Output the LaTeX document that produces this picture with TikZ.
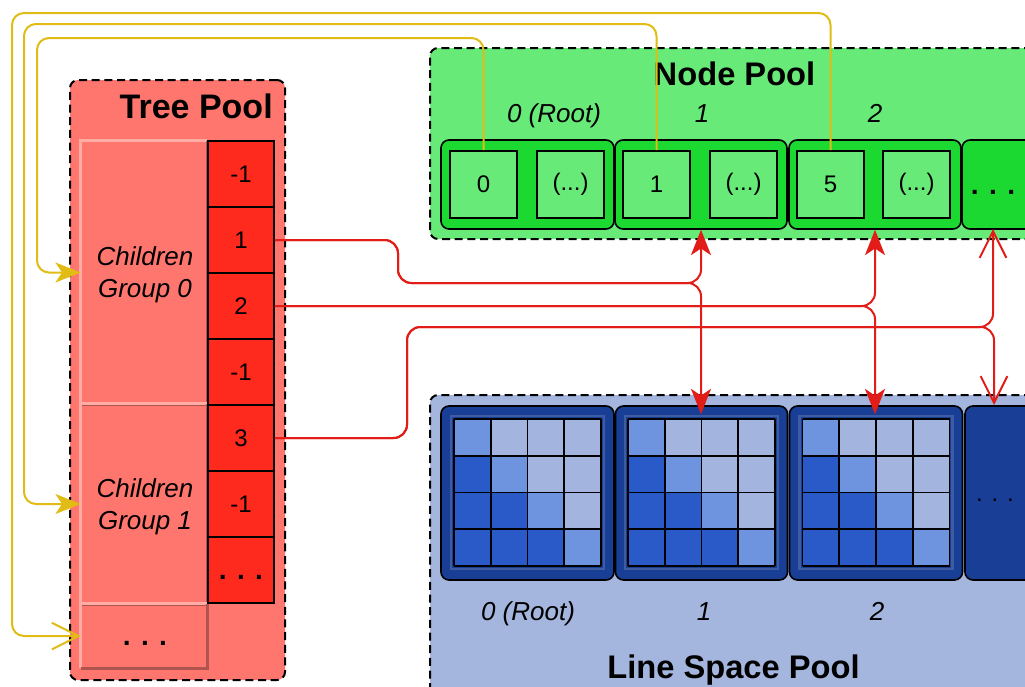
\documentclass[tikz,border=0pt]{standalone}
\usepackage{fontspec}
\setmainfont{Liberation Sans}
\usetikzlibrary{arrows.meta,calc}

\definecolor{treefill}{RGB}{255,118,110}
\definecolor{treelight}{RGB}{255,172,164}
\definecolor{treedark}{RGB}{176,84,80}
\definecolor{cellred}{RGB}{255,42,30}
\definecolor{poolgreen}{RGB}{104,234,120}
\definecolor{nodegreen}{RGB}{27,217,48}
\definecolor{poolblue}{RGB}{164,182,222}
\definecolor{blockblue}{RGB}{24,62,150}
\definecolor{ringblue}{RGB}{62,92,162}
\definecolor{lightcell}{RGB}{163,181,222}
\definecolor{midcell}{RGB}{110,148,224}
\definecolor{darkcell}{RGB}{42,90,200}
\definecolor{linkred}{RGB}{226,28,22}
\definecolor{linkyellow}{RGB}{224,188,20}

\begin{document}
\begin{tikzpicture}[x=0.75pt,y=-0.75pt,
  sz/.style 2 args={minimum width=#1*0.75pt, minimum height=#2*0.75pt},
  pool/.style={draw=black, line width=1.5pt, dash pattern=on 6pt off 3.5pt,
    rounded corners=6pt, inner sep=0pt},
  panel/.style={fill=treefill, inner sep=0pt},
  cell/.style={draw=black, line width=1.2pt, fill=cellred, inner sep=0pt, body},
  entry/.style={draw=black, line width=1.2pt, fill=nodegreen, rounded corners=6pt, inner sep=0pt},
  slot/.style={draw=black, line width=1.2pt, fill=poolgreen, inner sep=0pt, sz={67}{67}, body},
  block/.style={draw=black, line width=1.2pt, fill=blockblue, rounded corners=6pt, inner sep=0pt},
  title/.style={inner sep=0pt, font=\fontsize{24.5}{29}\selectfont\bfseries},
  body/.style={inner sep=0pt, font=\fontsize{18}{22}\selectfont},
  dots/.style={inner sep=0pt, font=\fontsize{21}{25}\selectfont\bfseries},
  idx/.style={inner sep=0pt, font=\fontsize{19.5}{24}\selectfont\itshape},
  redlink/.style={draw=linkred, line width=1.5pt, rounded corners=10pt},
  yellowlink/.style={draw=linkyellow, line width=1.5pt, rounded corners=9pt},
  solidtip/.style={-{Stealth[length=19pt,width=15pt,inset=5pt]}},
  opentip/.style={-{Straight Barb[length=20pt,width=20pt]}}
]
\useasboundingbox (0,0) rectangle (1025,686);
\clip (0,0) rectangle (1025,686);

% ---------- Tree Pool ----------
\node[pool, fill=treefill, sz={215}{600}] (tree) at (177.5,380) {};
\node[title, font=\fontsize{25.5}{30}\selectfont\bfseries, anchor=east] (treetitle) at (273,106) {Tree Pool};

\node[panel, sz={126}{263}] (g0) at (144,272.5) {};
\node[panel, sz={126}{200}] (g1) at (144,504) {};
\node[panel, sz={126}{64}] (gmore) at (144,636) {};
\foreach \g in {g0,g1,gmore}{
  \draw[treelight, line width=2pt] (\g.south west) -- (\g.north west) -- (\g.north east);
  \draw[treedark, line width=2pt] (\g.north east) -- (\g.south east) -- (\g.south west);
}
\node[idx, align=center] (g0text) at (145,275) {Children\\Group 0};
\node[idx, align=center] (g1text) at (145,507) {Children\\Group 1};
\node[dots] (gmoretext) at (145,636) {\vphantom{1}. . .};

\foreach \v [count=\i from 0] in {-1,1,2,-1,3,-1}
  \node[cell, sz={66}{66}] (c\i) at (241,174+66*\i) {\v};
\node[cell, dots, sz={66}{66}] (c6) at (241,570) {\vphantom{1}. . .};

% ---------- Node Pool ----------
\node[pool, fill=poolgreen, sz={610}{191}] (np) at (735,143.5) {};
\node[title] (nptitle) at (734.5,74) {Node Pool};
\node[idx, anchor=base] (npl0) at (554,122) {0 (Root)};
\node[idx, anchor=base] (npl1) at (702,122) {1};
\node[idx, anchor=base] (npl2) at (875,122) {2};

\node[entry, sz={173}{89}] (nd0) at (527.5,184.5) {};
\node[entry, sz={172}{89}] (nd1) at (701,184.5) {};
\node[entry, sz={172}{89}] (nd2) at (875,184.5) {};
\node[entry, sz={80}{89}] (ndd) at (1002,184.5) {};
\node[dots] (nddots) at (993,184.5) {\vphantom{1}. . .};

\node[slot] (s0a) at (483.5,184.5) {0};
\node[slot] (s0b) at (570.5,184.5) {(...)};
\node[slot] (s1a) at (656.5,184.5) {1};
\node[slot] (s1b) at (743.5,184.5) {(...)};
\node[slot] (s2a) at (830.5,184.5) {5};
\node[slot] (s2b) at (916.5,184.5) {(...)};

% ---------- Line Space Pool ----------
\node[pool, fill=poolblue, sz={610}{310}] (ls) at (735,550) {};
\node[block, sz={173}{174}] (b0) at (527.5,493) {};
\node[block, sz={172}{174}] (b1) at (701.5,493) {};
\node[block, sz={173}{174}] (b2) at (876,493) {};
\node[block, sz={76}{174}] (bd) at (1003,493) {};
\node[body] (bddots) at (995,493) {\vphantom{1}. . .};

\foreach \bx in {454,628,802.5}{
  \draw[ringblue, line width=2pt] (\bx-3,416) rectangle (\bx+150,569);
  \foreach \r in {0,...,3}{
    \foreach \c in {0,...,3}{
      \ifnum\c>\r \def\cc{lightcell}\else\ifnum\c=\r \def\cc{midcell}\else\def\cc{darkcell}\fi\fi
      \fill[\cc] (\bx+\c*36.75,419+\r*36.75) rectangle ++(36.75,36.75);
    }
  }
  \foreach \k in {0,...,4}{
    \draw[black, line width=1.3pt] (\bx+\k*36.75,419) -- ++(0,147);
    \draw[black, line width=1.3pt] (\bx,419+\k*36.75) -- ++(147,0);
  }
}

\node[idx, anchor=base] (lsl0) at (528,620) {0 (Root)};
\node[idx, anchor=base] (lsl1) at (704,620) {1};
\node[idx, anchor=base] (lsl2) at (877,620) {2};
\node[title, anchor=base] (lstitle) at (733.5,678) {Line Space Pool};

% ---------- links from the tree to the pools ----------
\coordinate (b1in) at ($(b1.north)+(-0.5,9)$);
\coordinate (b2in) at ($(b2.north)+(-1,9)$);
\coordinate (nddin) at (993,229);
\coordinate (bddin) at (994,405);

\draw[redlink, solidtip] (c1.east) -- (398,240) -- (398,283) -- (701,283) -- (nd1.south);
\draw[redlink, solidtip] (c1.east) -- (398,240) -- (398,283) -- (701,283) -- (b1in);
\draw[redlink, solidtip] (c2.east) -- (875,306) -- (nd2.south);
\draw[redlink, solidtip] (c2.east) -- (875,306) -- (b2in);
\draw[redlink, opentip] (c4.east) -- (407,438) -- (407,327) -- (993,327) -- (nddin);
\draw[redlink, opentip] (c4.east) -- (407,438) -- (407,327) -- (994,327) -- (bddin);

% ---------- links from the node pool back to children groups ----------
\draw[yellowlink, solidtip] (s0a.north) -- (483.5,38) -- (37,38) -- (37,272.5) -- (g0.west);
\draw[yellowlink, solidtip] (s1a.north) -- (656.5,24) -- (24,24) -- (24,504) -- (g1.west);
\draw[yellowlink, opentip] (s2a.north) -- (830.5,13) -- (12,13) -- (12,636) -- (gmore.west);
\end{tikzpicture}
\end{document}
